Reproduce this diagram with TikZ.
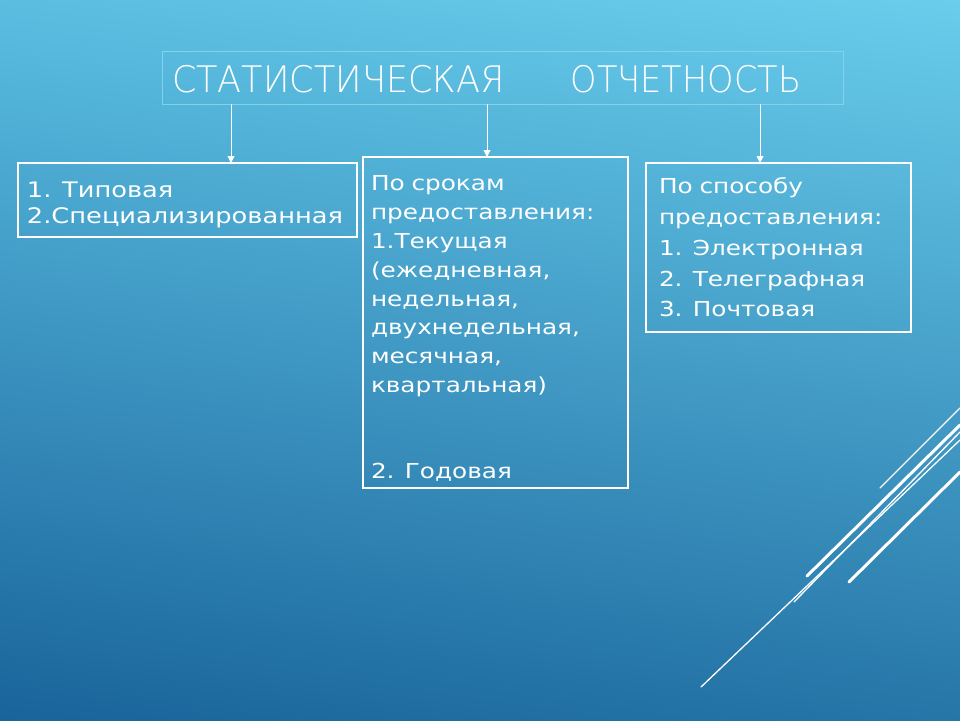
\documentclass[tikz,border=0pt]{standalone}
\usepackage{fontspec}
\setmainfont[FakeStretch=1.2]{DejaVu Sans}
\newfontfamily\titlefont[FakeStretch=0.958]{DejaVu Sans ExtraLight}
\newfontfamily\titlefontnarrow[FakeStretch=0.917]{DejaVu Sans ExtraLight}
\usetikzlibrary{arrows.meta, positioning, shadings}
\definecolor{bg-ul}{RGB}{90,190,225}
\definecolor{bg-ur}{RGB}{105,205,236}
\definecolor{bg-ll}{RGB}{25,100,155}
\definecolor{bg-lr}{RGB}{38,118,168}
\definecolor{title-line}{RGB}{130,210,235}
\tikzset{
	x=1pt, y=-1pt,
	every node/.style={text=white, inner ysep=0pt, outer sep=0pt, anchor=north west, align=left},
	box/.style={draw=white, line width=1.2pt},
	title-box/.style={draw=title-line, line width=0.8pt, font=\titlefont\fontsize{36.6}{40}\selectfont},
	small-text/.style={font=\fontsize{21.4}{25.6}\selectfont},
	mid-text/.style={font=\fontsize{20.6}{28.9}\selectfont},
	wide-text/.style={font=\fontsize{20.6}{30.8}\selectfont},
	deco-thin/.style={white, line width=1.3pt, line cap=round},
	deco-thick/.style={white, line width=3pt, line cap=round},
}
\tikzstyle{arrow} = [white, line width=1pt, -{Triangle[length=7pt,width=7pt]}]
\begin{document}
\begin{tikzpicture}
	\useasboundingbox (0,0) rectangle (960,720);
	\shade[upper left=bg-ul, upper right=bg-ur, lower left=bg-ll, lower right=bg-lr] (0,0) rectangle (960,720);

	\node[title-box, inner xsep=10pt, text width=661pt, minimum height=53pt, text height=30pt, text depth=0pt] (title) at (162,51) {\mbox{СТАТИСТИЧЕСКАЯ\hspace{66pt}{\titlefontnarrow ОТЧЕТНОСТЬ}}};

	\node[box, small-text, inner xsep=9pt, text width=321pt, minimum height=74pt, text height=26pt] (kind) at (18,163) {1. Типовая\\2.Специализированная};
	\node[box, mid-text, inner xsep=8pt, text width=249pt, minimum height=331pt, text height=27pt] (term) at (363,157) {По срокам\\предоставления:\\1.Текущая\\(ежедневная,\\недельная,\\двухнедельная,\\месячная,\\квартальная)\\[57pt]2. Годовая};
	\node[box, wide-text, inner xsep=13pt, text width=239pt, minimum height=169pt] (way) at (646,163) {По способу\\предоставления:\\1. Электронная\\2. Телеграфная\\3. Почтовая};

	\coordinate (a1) at (231,104);
	\coordinate (a2) at (487,104);
	\coordinate (a3) at (760,104);
	\draw[arrow] (a1) -- (a1 |- kind.north);
	\draw[arrow] (a2) -- (a2 |- term.north);
	\draw[arrow] (a3) -- (a3 |- way.north);

	% white strokes, lower right
	\draw[deco-thin] (960,408) -- (880,488);
	\draw[deco-thick] (960,425) -- (807,576);
	\draw[deco-thin] (960,432) -- (794,602);
	\draw[deco-thin] (960,440) -- (701,687);
	\draw[deco-thick] (960,472) -- (849,582);
\end{tikzpicture}
\end{document}
